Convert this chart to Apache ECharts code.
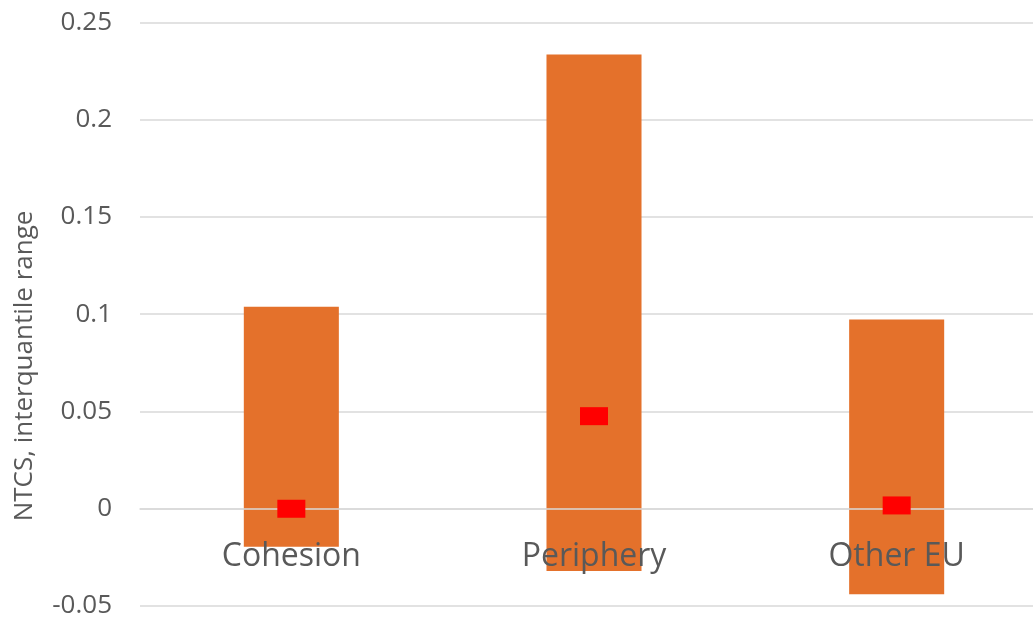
<!DOCTYPE html>
<html>
<head>
<meta charset="UTF-8">
<title></title>
<script src="https://cdn.jsdelivr.net/npm/echarts@6/dist/echarts.min.js"></script>
<style>
  body { margin: 0; background: #fff; }
  #main { width: 1033px; height: 617px; }
</style>
</head>
<body>
<div id="main"></div>
<script type="text/javascript">
// groups, interquantile range (low / high) and median
var categories = ['Cohesion', 'Periphery', 'Other EU'];
var lowValues = [-0.0195, -0.032, -0.044];
var highValues = [0.1038, 0.2336, 0.0973];
var medianValues = [0.0, 0.0476, 0.0017];

var rangeData = categories.map(function (c, i) {
	return [i, lowValues[i], highValues[i]];
});

var myChart = echarts.init(document.getElementById('main'));

var option = {
	animation: false,
	textStyle: { fontFamily: 'Open Sans' },
	grid: { left: 140, top: 22.5, bottom: 11, width: 908, containLabel: false, outerBoundsMode: 'none' },
	graphic: [{
		type: 'text',
		x: 25,
		y: 366,
		rotation: Math.PI / 2,
		style: {
			text: 'NTCS, interquantile range',
			fontFamily: 'Open Sans',
			fontSize: 26,
			fill: '#595959',
			textAlign: 'center',
			textVerticalAlign: 'middle'
		}
	}],
	xAxis: [{
		// axis line drawn at zero, over the bars
		type: 'category',
		data: categories,
		z: 10,
		axisTick: { show: false },
		axisLine: { onZero: true, lineStyle: { color: '#D9D9D9', width: 1.5 } },
		axisLabel: { show: false }
	}, {
		// category labels, moved up to the zero line
		type: 'category',
		data: categories,
		position: 'bottom',
		offset: -97.3,
		z: 10,
		axisTick: { show: false },
		axisLine: { show: false },
		axisLabel: { color: '#595959', fontSize: 32, margin: 32 }
	}],
	yAxis: {
		type: 'value',
		min: -0.05,
		max: 0.25,
		interval: 0.05,
		axisLine: { show: false },
		axisTick: { show: false },
		axisLabel: { color: '#595959', fontSize: 26, margin: 28 },
		splitLine: { lineStyle: { color: '#D9D9D9', width: 1.5 } }
	},
	series: [{
		type: 'custom',
		name: 'range',
		z: 2,
		data: rangeData,
		encode: { x: 0, y: [1, 2] },
		renderItem: function (params, api) {
			var x = api.value(0);
			var top = api.coord([x, api.value(2)]);
			var bottom = api.coord([x, api.value(1)]);
			var w = api.size([1, 0])[0] * 0.314;
			return {
				type: 'rect',
				shape: { x: top[0] - w / 2, y: top[1], width: w, height: bottom[1] - top[1] },
				style: { fill: '#E4712B' }
			};
		}
	}, {
		type: 'scatter',
		name: 'median',
		z: 20,
		symbol: 'rect',
		symbolSize: [28, 18],
		itemStyle: { color: '#FF0000', opacity: 1 },
		data: medianValues
	}]
};
myChart.setOption(option);
</script>
</body>
</html>
